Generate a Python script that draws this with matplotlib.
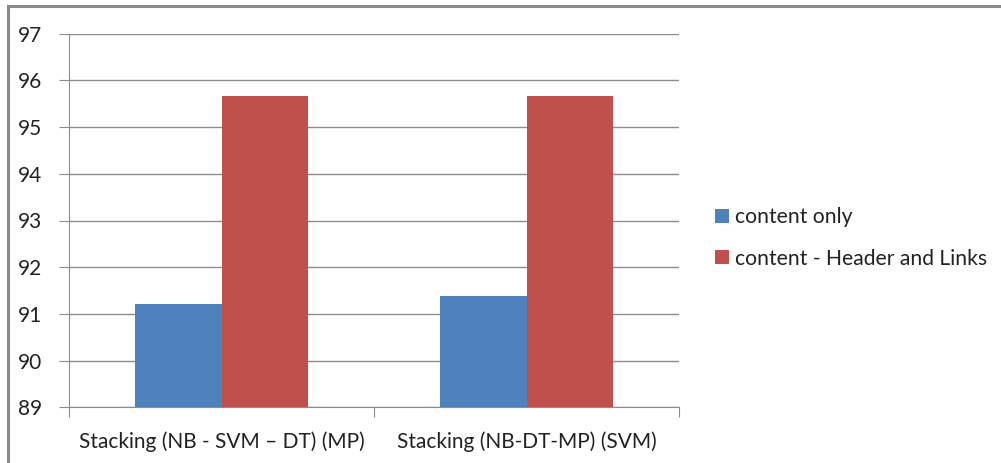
import numpy as np
import matplotlib.pyplot as plt
from matplotlib.patches import Rectangle
from matplotlib import rcParams

rcParams.update({'font.family': ['Lato', 'DejaVu Sans']})

categories = ['Stacking (NB - SVM – DT) (MP)', 'Stacking (NB-DT-MP) (SVM)']
content_only = [91.22, 91.39]
content_header_links = [95.67, 95.67]
series_names = ['content only', 'content - Header and Links']

blue = '#4F81BD'
red = '#C0504D'
grid_gray = '#8C8C8C'

fig = plt.figure(figsize=(10.01, 4.63), dpi=100)
ax = fig.add_axes([69/1001, 1-407.3/463, 610/1001, (407.3-33.7)/463])

# outer chart frame (top and left edges visible)
fig.patches.append(Rectangle((8/1001, -0.1), 1.2, (463-6)/463 + 0.1, transform=fig.transFigure,
                             fill=False, edgecolor='#8A8A8A', linewidth=2.2))

ind = np.arange(len(categories))
width = 0.285
r1 = ax.bar(ind - width/2, [v - 89 for v in content_only], width, bottom=89, color=blue, zorder=3)
r2 = ax.bar(ind + width/2, [v - 89 for v in content_header_links], width, bottom=89, color=red, zorder=3)

ax.set_xlim(-0.5, 1.5)
ax.set_ylim(89, 97)
ax.set_yticks(range(89, 98))
ax.yaxis.grid(True, color=grid_gray, linewidth=1.0, zorder=0)
ax.set_axisbelow(True)

ax.set_xticks([-0.5, 0.5, 1.5], minor=False)
ax.set_xticklabels([])
ax.set_xticks(ind, minor=True)
ax.set_xticklabels(categories, minor=True, fontsize=15, color='#222222')
ax.tick_params(axis='x', which='minor', length=0, pad=17)
ax.tick_params(axis='x', which='major', length=7, color=grid_gray, direction='out')
ax.tick_params(axis='y', length=7, color=grid_gray, direction='out', labelsize=15,
               labelcolor='#222222', pad=12)

for s in ['top', 'right']:
    ax.spines[s].set_visible(False)
ax.spines['left'].set_color(grid_gray)
ax.spines['bottom'].set_color(grid_gray)

fig.legend((r1[0], r2[0]), series_names, loc='center left', bbox_to_anchor=(696/1001, 1-238/463),
           frameon=False, fontsize=15.2, handlelength=0.65, handleheight=0.65, handletextpad=0.3,
           labelspacing=1.0, labelcolor='#222222')

fig.savefig('out.png', dpi=100)
